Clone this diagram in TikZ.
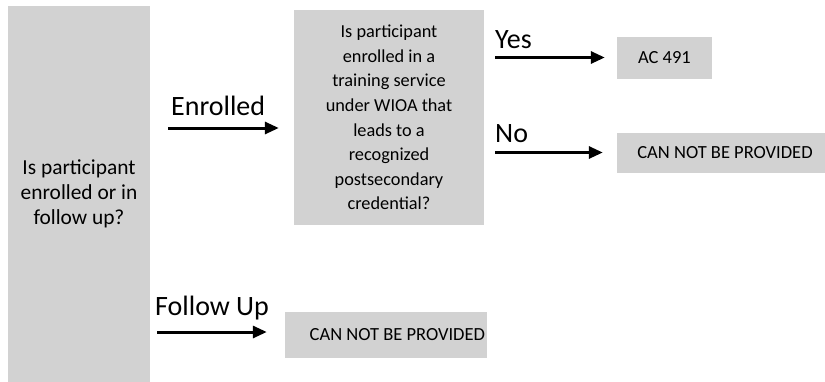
\documentclass[tikz,border=0pt]{standalone}
\usepackage{fontspec}
\setmainfont{Carlito}
\usetikzlibrary{arrows.meta}
\definecolor{boxgray}{RGB}{210,210,210}
\tikzset{
  box/.style={fill=boxgray, draw=none, align=center, inner sep=0pt,
              font=\fontsize{18.5}{22}\selectfont},
  flow/.style={line width=3pt, -{Triangle[length=14pt,width=12pt]}},
  branch/.style={anchor=base west, inner sep=0pt,
                 font=\fontsize{28}{30}\selectfont}
}
\begin{document}
\begin{tikzpicture}[x=1pt,y=-1pt]
  \useasboundingbox (0,0) rectangle (825,381);

  % decision boxes
  \node[box, minimum width=142pt, minimum height=376pt,
        font=\fontsize{21.4}{25}\selectfont] (left) at (79,194)
    {Is participant\\enrolled or in\\follow up?};
  \node[box, minimum width=190pt, minimum height=215pt,
        font=\fontsize{18.3}{24.6}\selectfont] (mid) at (389,117.5)
    {Is participant\\enrolled in a\\training service\\under WIOA that\\leads to a\\recognized\\postsecondary\\credential?};

  % outcome boxes
  \node[box, minimum width=95pt, minimum height=42pt] (ac) at (664.5,57.5) {AC 491};
  \node[box, minimum width=216pt, minimum height=40pt] (no) at (725,152.5) {CAN NOT BE PROVIDED};
  \node[box, minimum width=202pt, minimum height=46pt, inner xsep=2pt] (fu) at (386,335)
    {\makebox[198pt][r]{CAN NOT BE PROVIDED}};

  % arrow heights
  \coordinate (enrY) at (0,128);
  \coordinate (fuY) at (0,332);

  % connectors
  \draw[flow, shorten <=18pt, shorten >=15pt] (left.east |- enrY) -- (mid.west |- enrY);
  \draw[flow, shorten <=7pt, shorten >=18pt] (left.east |- fuY) -- (fu.west |- fuY);
  \draw[flow, shorten <=11pt, shorten >=12pt] (mid.east |- ac.west) -- (ac.west);
  \draw[flow, shorten <=11pt, shorten >=14pt] (mid.east |- no.west) -- (no.west);

  % branch labels
  \node[branch] (lenr) at (171,115) {Enrolled};
  \node[branch] (lfu) at (155,315) {Follow Up};
  \node[branch] (lyes) at (495,48) {Yes};
  \node[branch] (lno) at (495,142) {No};
\end{tikzpicture}
\end{document}
